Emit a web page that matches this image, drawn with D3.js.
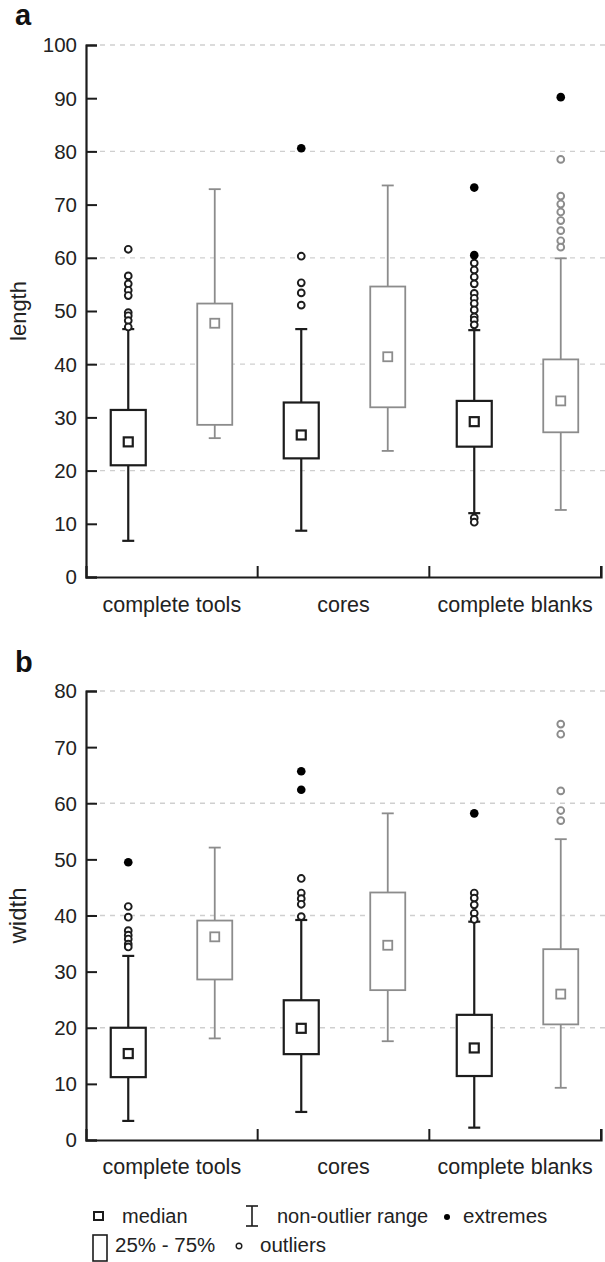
<!DOCTYPE html>
<html>
<head>
<meta charset="utf-8">
<script src="https://cdn.jsdelivr.net/npm/d3@7"></script>
<style>
  body { margin: 0; background: #fff; }
  svg text { font-family: "Liberation Sans", Arial, sans-serif; fill: #222; }
</style>
</head>
<body>
<div id="chart"></div>
<script>
// categories and the two box series that sit inside each of them
var categories = ['complete tools', 'cores', 'complete blanks'];
var seriesKeys = ['tools1', 'tools2', 'cores1', 'cores2', 'blanks1', 'blanks2'];
var seriesDark = [true, false, true, false, true, false];

// panel a - length
var lengthTicks = [0, 10, 20, 30, 40, 50, 60, 70, 80, 90, 100];
var lengthLow    = [6.8, 26.1, 8.7, 23.7, 12.0, 12.6];
var lengthQ1     = [21.0, 28.6, 22.3, 31.9, 24.5, 27.2];
var lengthMedian = [25.4, 47.7, 26.7, 41.4, 29.2, 33.1];
var lengthQ3     = [31.4, 51.4, 32.8, 54.6, 33.1, 40.9];
var lengthHigh   = [46.6, 72.9, 46.6, 73.6, 46.4, 59.9];
var lengthOutliers = [
    [61.6, 56.6, 55.1, 53.9, 52.9, 49.7, 49.1, 48.2, 47.0],
    [],
    [60.3, 55.3, 53.4, 51.1],
    [],
    [59.0, 57.7, 56.4, 55.1, 53.3, 52.4, 51.4, 50.2, 48.9, 48.3, 47.4, 11.1, 10.3],
    [78.5, 71.6, 70.1, 68.6, 67.0, 65.1, 63.2, 62.0]
];
var lengthExtremes = [[], [], [80.6], [], [73.2, 60.5], [90.2]];

// panel b - width
var widthTicks = [0, 10, 20, 30, 40, 50, 60, 70, 80];
var widthLow    = [3.4, 18.1, 5.0, 17.6, 2.2, 9.3];
var widthQ1     = [11.2, 28.6, 15.3, 26.7, 11.4, 20.6];
var widthMedian = [15.4, 36.2, 19.9, 34.7, 16.4, 26.0];
var widthQ3     = [20.0, 39.1, 24.9, 44.1, 22.3, 34.0];
var widthHigh   = [32.8, 52.1, 39.2, 58.2, 38.9, 53.6];
var widthOutliers = [
    [41.6, 39.7, 37.3, 36.5, 35.8, 34.9, 34.4],
    [],
    [46.6, 44.0, 43.0, 42.0, 39.8],
    [],
    [44.0, 43.1, 41.9, 40.4, 39.3],
    [74.1, 72.3, 62.2, 58.7, 56.9]
];
var widthExtremes = [[49.5], [], [65.7, 62.4], [], [58.2], []];

var W = 605, H = 1262;
var dark = '#1c1c1c', grey = '#8c8c8c';

var svg = d3.select('#chart').append('svg')
    .attr('width', W).attr('height', H);

/**
 * draws one box plot panel
 */
function createPanel(opts) {
    var g = svg.append('g');

    var y = d3.scaleLinear().domain(opts.domain).range([opts.bottom, opts.top]);
    var xCat = d3.scaleBand().domain(categories).range([86, 601]);
    var xBox = d3.scaleBand().domain(seriesKeys).range([85, 604]);
    var boxW = 35, capW = 12, medW = 9;

    // dashed grid every 20
    g.selectAll('.grid')
        .data(opts.ticks.filter(function(d) { return d > 0 && d % 20 == 0; }))
        .enter().append('line')
        .attr('x1', 90).attr('x2', W)
        .attr('y1', function(d) { return y(d); })
        .attr('y2', function(d) { return y(d); })
        .attr('stroke', '#cfcfcf')
        .attr('stroke-width', 1.3)
        .attr('stroke-dasharray', '5,5');

    // y axis
    var yAxis = d3.axisRight(y).tickValues(opts.ticks).tickSize(11).tickFormat('');
    var ya = g.append('g').attr('transform', 'translate(86,0)').call(yAxis);
    ya.select('.domain').attr('stroke', dark).attr('stroke-width', 2.2);
    ya.selectAll('.tick line').attr('stroke', dark).attr('stroke-width', 2);

    g.selectAll('.ylab')
        .data(opts.ticks)
        .enter().append('text')
        .attr('x', 77)
        .attr('y', function(d) { return y(d); })
        .attr('dy', '0.36em')
        .attr('text-anchor', 'end')
        .style('font-size', '20.5px')
        .text(function(d) { return d; });

    // x axis with category ticks pointing up
    var xAxis = d3.axisTop(xCat).tickSize(11).tickFormat('');
    var xa = g.append('g').attr('transform', 'translate(0,' + opts.bottom + ')').call(xAxis);
    xa.select('.domain').attr('stroke', dark).attr('stroke-width', 2.2);
    xa.selectAll('.tick').attr('transform', function(d) {
        return 'translate(' + (xCat(d) + xCat.bandwidth()) + ',0)';
    });
    xa.selectAll('.tick line').attr('stroke', dark).attr('stroke-width', 2);

    g.selectAll('.xlab')
        .data(categories)
        .enter().append('text')
        .attr('x', function(d) { return xCat(d) + xCat.bandwidth() / 2; })
        .attr('y', opts.bottom + opts.labelOffset)
        .attr('text-anchor', 'middle')
        .style('font-size', '21.5px')
        .text(function(d) { return d; });

    // axis title
    g.append('text')
        .attr('transform', 'translate(26,' + (opts.top + opts.bottom) / 2 + ') rotate(-90)')
        .attr('text-anchor', 'middle')
        .style('font-size', opts.titleSize + 'px')
        .text(opts.title);

    // panel letter
    g.append('text')
        .attr('x', 15).attr('y', opts.letterY)
        .style('font-size', '29px')
        .style('font-weight', 'bold')
        .style('fill', '#111')
        .text(opts.letter);

    var boxes = g.selectAll('.box')
        .data(seriesKeys)
        .enter().append('g')
        .attr('class', 'box')
        .attr('transform', function(d) { return 'translate(' + (xBox(d) + xBox.bandwidth() / 2) + ',0)'; });

    function col(i) { return seriesDark[i] ? dark : grey; }
    function sw(i) { return seriesDark[i] ? 2.2 : 1.8; }

    // whiskers
    boxes.append('line')
        .attr('y1', function(d, i) { return y(opts.low[i]); })
        .attr('y2', function(d, i) { return y(opts.high[i]); })
        .attr('stroke', function(d, i) { return col(i); })
        .attr('stroke-width', function(d, i) { return sw(i); });
    ['low', 'high'].forEach(function(k) {
        boxes.append('line')
            .attr('x1', -capW / 2).attr('x2', capW / 2)
            .attr('y1', function(d, i) { return y(opts[k][i]); })
            .attr('y2', function(d, i) { return y(opts[k][i]); })
            .attr('stroke', function(d, i) { return col(i); })
            .attr('stroke-width', function(d, i) { return sw(i); });
    });

    // 25% - 75% box
    boxes.append('rect')
        .attr('x', -boxW / 2)
        .attr('width', boxW)
        .attr('y', function(d, i) { return y(opts.q3[i]); })
        .attr('height', function(d, i) { return y(opts.q1[i]) - y(opts.q3[i]); })
        .attr('fill', '#fff')
        .attr('stroke', function(d, i) { return col(i); })
        .attr('stroke-width', function(d, i) { return sw(i); });

    // median square
    boxes.append('rect')
        .attr('x', -medW / 2)
        .attr('width', medW)
        .attr('y', function(d, i) { return y(opts.median[i]) - medW / 2; })
        .attr('height', medW)
        .attr('fill', 'none')
        .attr('stroke', function(d, i) { return col(i); })
        .attr('stroke-width', function(d, i) { return sw(i); });

    // outliers
    boxes.each(function(d, i) {
        d3.select(this).selectAll('.out')
            .data(opts.outliers[i])
            .enter().append('circle')
            .attr('cy', function(v) { return y(v); })
            .attr('r', 3.4)
            .attr('fill', '#fff')
            .attr('stroke', col(i))
            .attr('stroke-width', 1.9);
        d3.select(this).selectAll('.ext')
            .data(opts.extremes[i])
            .enter().append('circle')
            .attr('cy', function(v) { return y(v); })
            .attr('r', 4.3)
            .attr('fill', '#000');
    });
}

createPanel({
    letter: 'a', letterY: 25, title: 'length', titleSize: 22,
    domain: [0, 100], bottom: 577, top: 45, ticks: lengthTicks, labelOffset: 35,
    low: lengthLow, q1: lengthQ1, median: lengthMedian, q3: lengthQ3, high: lengthHigh,
    outliers: lengthOutliers, extremes: lengthExtremes
});

createPanel({
    letter: 'b', letterY: 672, title: 'width', titleSize: 24,
    domain: [0, 80], bottom: 1140, top: 691, ticks: widthTicks, labelOffset: 34,
    low: widthLow, q1: widthQ1, median: widthMedian, q3: widthQ3, high: widthHigh,
    outliers: widthOutliers, extremes: widthExtremes
});

// legend
var legend = svg.append('g');
var row1 = 1216, row2 = 1245;

legend.append('rect').attr('x', 94).attr('y', row1 - 4).attr('width', 9).attr('height', 8)
    .attr('fill', 'none').attr('stroke', dark).attr('stroke-width', 2);
legend.append('text').attr('x', 122).attr('y', row1).attr('dy', '0.36em')
    .style('font-size', '20px').text('median');

legend.append('line').attr('x1', 252).attr('x2', 252).attr('y1', row1 - 10).attr('y2', row1 + 10)
    .attr('stroke', dark).attr('stroke-width', 1.6);
legend.append('line').attr('x1', 246).attr('x2', 258).attr('y1', row1 - 10).attr('y2', row1 - 10)
    .attr('stroke', dark).attr('stroke-width', 1.6);
legend.append('line').attr('x1', 246).attr('x2', 258).attr('y1', row1 + 10).attr('y2', row1 + 10)
    .attr('stroke', dark).attr('stroke-width', 1.6);
legend.append('text').attr('x', 277).attr('y', row1).attr('dy', '0.36em')
    .style('font-size', '20px').text('non-outlier range');

legend.append('circle').attr('cx', 447).attr('cy', row1 + 1).attr('r', 3).attr('fill', '#000');
legend.append('text').attr('x', 463).attr('y', row1).attr('dy', '0.36em')
    .style('font-size', '20.5px').text('extremes');

legend.append('rect').attr('x', 93).attr('y', row2 - 10).attr('width', 14).attr('height', 26)
    .attr('fill', 'none').attr('stroke', dark).attr('stroke-width', 1.6);
legend.append('text').attr('x', 115).attr('y', row2).attr('dy', '0.36em')
    .style('font-size', '20.5px').text('25% - 75%');

legend.append('circle').attr('cx', 239).attr('cy', row2 + 1).attr('r', 2.8)
    .attr('fill', 'none').attr('stroke', dark).attr('stroke-width', 1.4);
legend.append('text').attr('x', 260).attr('y', row2).attr('dy', '0.36em')
    .style('font-size', '20.5px').text('outliers');
</script>
</body>
</html>
